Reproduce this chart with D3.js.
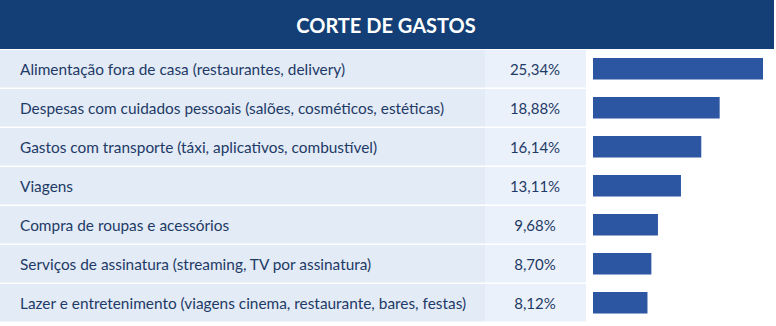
<!DOCTYPE html>
<html><head><meta charset="utf-8">
<script src="https://cdn.jsdelivr.net/npm/d3@7"></script>
<style>body{margin:0;background:#fff}svg{display:block}</style>
</head><body>
<svg id="c" width="776" height="326"></svg>
<script>
const title = "CORTE DE GASTOS";
const categories = [
  "Alimentação fora de casa (restaurantes, delivery)",
  "Despesas com cuidados pessoais (salões, cosméticos, estéticas)",
  "Gastos com transporte (táxi, aplicativos, combustível)",
  "Viagens",
  "Compra de roupas e acessórios",
  "Serviços de assinatura (streaming, TV por assinatura)",
  "Lazer e entretenimento (viagens cinema, restaurante, bares, festas)"
];
const values = [25.34, 18.88, 16.14, 13.11, 9.68, 8.70, 8.12];
const valueLabels = ["25,34%", "18,88%", "16,14%", "13,11%", "9,68%", "8,70%", "8,12%"];

const svg = d3.select("#c");
const font = "Lato, 'Open Sans', sans-serif";

svg.append("rect").attr("x",0).attr("y",0).attr("width",774).attr("height",49).attr("fill","#133f76");
svg.append("text").attr("x",386).attr("y",33).attr("text-anchor","middle")
  .attr("font-family",font).attr("font-weight",700).attr("font-size",20).attr("fill","#fff").text(title);

const y = d3.scaleBand().domain(categories).range([50, 323]).padding(0);
const x = d3.scaleLinear().domain([0, d3.max(values)]).range([0, 170]);
const data = categories.map((c,i)=>({c, v: values[i], l: valueLabels[i]}));

const rows = svg.selectAll("g.row").data(data).join("g").attr("class","row")
  .attr("transform", d=>`translate(0,${y(d.c)})`);
rows.append("rect").attr("x",0).attr("y",0).attr("width",485).attr("height",y.bandwidth()-1.5).attr("fill","#e3ebf6");
rows.append("rect").attr("x",485).attr("y",0).attr("width",101).attr("height",y.bandwidth()-1.5).attr("fill","#ebf1fa");
rows.append("text").attr("x",20).attr("y",y.bandwidth()/2+5).attr("font-family",font).attr("font-size",15.4)
  .attr("fill","#1e3a66").text(d=>d.c);
rows.append("text").attr("x",535).attr("y",y.bandwidth()/2+5).attr("text-anchor","middle").attr("font-family",font).attr("font-size",15)
  .attr("fill","#1e3a66").text(d=>d.l);
rows.append("rect").attr("x",593).attr("y",y.bandwidth()/2-11.5).attr("width",d=>x(d.v)).attr("height",21.5).attr("fill","#2c55a2");
</script>
</body></html>
